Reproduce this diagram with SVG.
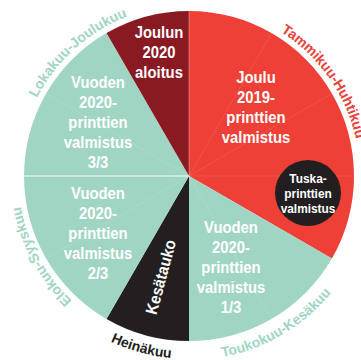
<svg xmlns="http://www.w3.org/2000/svg" width="361" height="360" viewBox="0 0 361 360">
<style>
.w{fill:#fff;font-family:"Liberation Sans",Arial,sans-serif;font-weight:bold;font-size:16.5px;text-anchor:middle}
.t{fill:#fff;font-family:"Liberation Sans",Arial,sans-serif;font-weight:bold;font-size:13.5px;text-anchor:middle}
.lbl{font-family:"Liberation Sans",Arial,sans-serif;font-weight:bold;font-size:14px;text-anchor:middle}
.div{stroke:#fff;stroke-opacity:.15;stroke-width:.7;fill:none}
.teal{fill:#a1d5c3}
</style>
<defs>
<path id="pTam" d="M247.49,15.31 A171,171 0 0 1 360,176"/>
<path id="pLok" d="M22.38,137.53 A171,171 0 0 1 168.16,6.28"/>
<path id="pElo" d="M112.70,329.03 A171,171 0 0 1 19.10,156.64"/>
<path id="pTou" d="M174.56,359.43 A184,184 0 0 0 356.45,252.30"/>
<path id="pHei" d="M47.79,292.40 A183,183 0 0 0 250.09,348.50"/>
</defs>
<rect width="361" height="360" fill="#fff"/>

<g id="seg-joulu2019">
<path d="M189,176 L189,11 A165,165 0 0 1 331.89,258.5 Z" fill="#ee4036"/>
</g>
<g id="seg-vuoden-1-3">
<path class="teal" d="M189,176 L331.89,258.5 A165,165 0 0 1 189,341 Z"/>
</g>
<g id="seg-kesatauko">
<path d="M189,176 L189,341 A165,165 0 0 1 106.5,318.89 Z" fill="#231f20"/>
</g>
<g id="seg-vuoden-2-3">
<path class="teal" d="M189,176 L106.5,318.89 A165,165 0 0 1 24,176 Z"/>
</g>
<g id="seg-vuoden-3-3">
<path class="teal" d="M189,176 L24,176 A165,165 0 0 1 106.5,33.11 Z"/>
</g>
<g id="seg-joulun2020">
<path d="M189,176 L106.5,33.11 A165,165 0 0 1 189,11 Z" fill="#8a1a22"/>
</g>

<g id="dividers">
<path class="div" d="M189,176 L271.5,33.11 M189,176 L331.89,93.5 M189,176 L354,176 M189,176 L271.5,318.89 M189,176 L46.11,258.5 M189,176 L46.11,93.5"/>
<path d="M189,176 L24,176" stroke="#fff" stroke-opacity=".85" stroke-width="1"/>
<path d="M189,176 L189,11" stroke="#fff" stroke-opacity=".4" stroke-width=".8"/>
</g>

<g id="tuska">
<circle cx="308" cy="193" r="33" fill="#231f20"/>
<text class="t" transform="translate(308,0) scale(0.88,1)"><tspan x="0" y="183">Tuska-</tspan><tspan x="0" y="198">printtien</tspan><tspan x="0" y="213">valmistus</tspan></text>
</g>

<g id="text-joulun2020">
<text class="w" transform="translate(159,0) scale(0.9,1)"><tspan x="0" y="38">Joulun</tspan><tspan x="0" y="58">2020</tspan><tspan x="0" y="78">aloitus</tspan></text>
</g>
<g id="text-joulu2019">
<text class="w" transform="translate(256,0) scale(0.9,1)"><tspan x="0" y="83">Joulu</tspan><tspan x="0" y="103">2019-</tspan><tspan x="0" y="123">printtien</tspan><tspan x="0" y="143">valmistus</tspan></text>
</g>
<g id="text-3-3">
<text class="w" transform="translate(98,0) scale(0.9,1)"><tspan x="0" y="88">Vuoden</tspan><tspan x="0" y="108">2020-</tspan><tspan x="0" y="128">printtien</tspan><tspan x="0" y="148">valmistus</tspan><tspan x="0" y="168">3/3</tspan></text>
</g>
<g id="text-2-3">
<text class="w" transform="translate(98,0) scale(0.9,1)"><tspan x="0" y="199">Vuoden</tspan><tspan x="0" y="219">2020-</tspan><tspan x="0" y="239">printtien</tspan><tspan x="0" y="259">valmistus</tspan><tspan x="0" y="279">2/3</tspan></text>
</g>
<g id="text-1-3">
<text class="w" transform="translate(231,0) scale(0.9,1)"><tspan x="0" y="233">Vuoden</tspan><tspan x="0" y="253">2020-</tspan><tspan x="0" y="273">printtien</tspan><tspan x="0" y="293">valmistus</tspan><tspan x="0" y="313">1/3</tspan></text>
</g>
<g id="text-kesatauko">
<text class="w" transform="translate(160.5,277) rotate(-75) scale(0.92,1)" x="0" y="6">Kesätauko</text>
</g>

<g id="labels">
<text class="lbl" fill="#ea4138"><textPath href="#pTam" startOffset="50%">Tammikuu-Huhtikuu</textPath></text>
<text class="lbl" fill="#a1d5c3"><textPath href="#pLok" startOffset="50%">Lokakuu-Joulukuu</textPath></text>
<text class="lbl" fill="#a1d5c3"><textPath href="#pElo" startOffset="50%">Elokuu-Syyskuu</textPath></text>
<text class="lbl" fill="#a1d5c3"><textPath href="#pTou" startOffset="50%">Toukokuu-Kesäkuu</textPath></text>
<text class="lbl" fill="#231f20"><textPath href="#pHei" startOffset="50%">Heinäkuu</textPath></text>
</g>
</svg>
